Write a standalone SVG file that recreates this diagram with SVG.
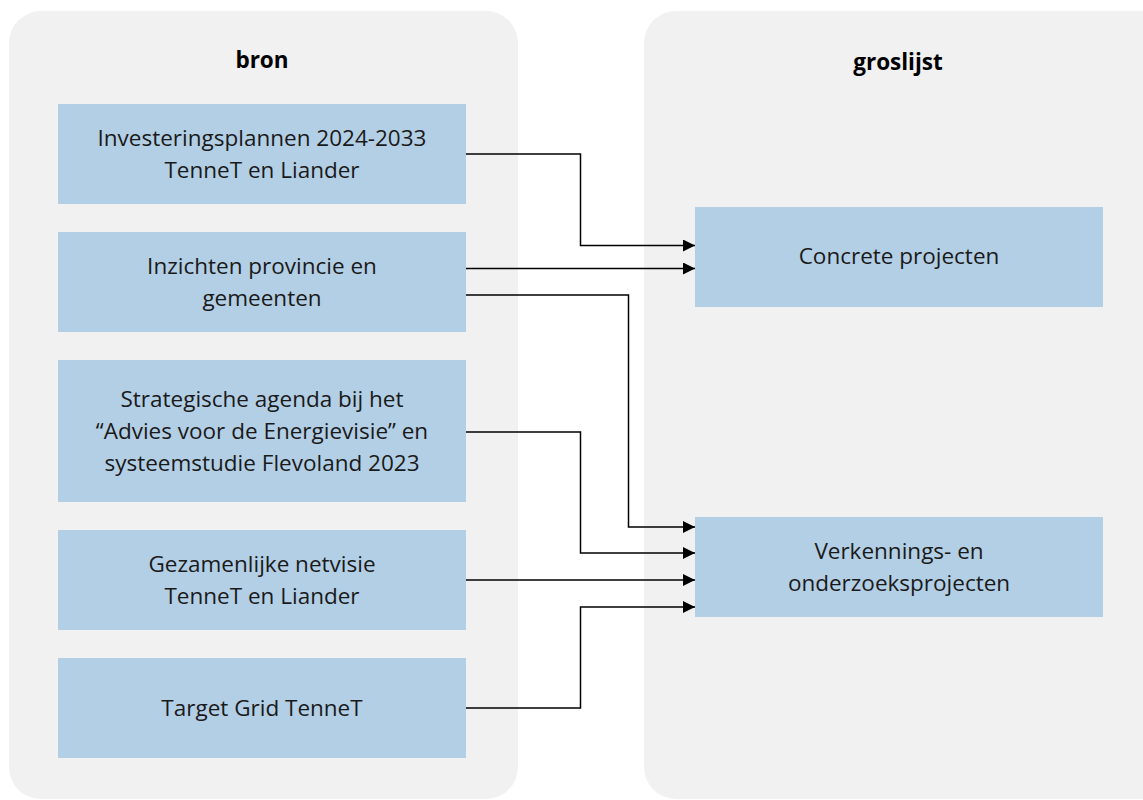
<svg xmlns="http://www.w3.org/2000/svg" width="1143" height="800" viewBox="0 0 1143 800">
<defs>
<style>
.cont{fill:#f1f1f1}
.box{fill:#b3cfe5}
.t{font-family:"Open Sans","Noto Sans","Liberation Sans",sans-serif;font-size:22.5px;fill:#1a1a1a;text-anchor:middle}
.h{font-family:"Open Sans","Noto Sans","Liberation Sans",sans-serif;font-size:22.5px;font-weight:bold;fill:#000;text-anchor:middle}
.c{fill:none;stroke:#000;stroke-width:1.5}
</style>
<marker id="ah" viewBox="0 0 12 12" refX="12" refY="6" markerWidth="12" markerHeight="12" markerUnits="userSpaceOnUse" orient="auto">
<path d="M0,0 L12,6 L0,12 Z" fill="#000"/>
</marker>
</defs>
<rect width="1143" height="800" fill="#fff"/>
<g id="container-bron">
<rect class="cont" x="9" y="11" width="509" height="788" rx="32"/>
<text class="h" x="262" y="68">bron</text>
</g>
<g id="container-groslijst">
<rect class="cont" x="644" y="11" width="530" height="788" rx="32"/>
<text class="h" x="898" y="70">groslijst</text>
</g>
<g id="node-investeringsplannen">
<rect class="box" x="58" y="104" width="408" height="100"/>
<text class="t" x="262" y="146">Investeringsplannen 2024-2033</text>
<text class="t" x="262" y="178">TenneT en Liander</text>
</g>
<g id="node-inzichten">
<rect class="box" x="58" y="232" width="408" height="100"/>
<text class="t" x="262" y="274">Inzichten provincie en</text>
<text class="t" x="262" y="306">gemeenten</text>
</g>
<g id="node-strategische">
<rect class="box" x="58" y="360" width="408" height="142"/>
<text class="t" x="262" y="407">Strategische agenda bij het</text>
<text class="t" x="262" y="439">“Advies voor de Energievisie” en</text>
<text class="t" x="262" y="471">systeemstudie Flevoland 2023</text>
</g>
<g id="node-netvisie">
<rect class="box" x="58" y="530" width="408" height="100"/>
<text class="t" x="262" y="572">Gezamenlijke netvisie</text>
<text class="t" x="262" y="604">TenneT en Liander</text>
</g>
<g id="node-targetgrid">
<rect class="box" x="58" y="658" width="408" height="100"/>
<text class="t" x="262" y="716">Target Grid TenneT</text>
</g>
<g id="node-concrete">
<rect class="box" x="695" y="207" width="408" height="100"/>
<text class="t" x="899" y="264">Concrete projecten</text>
</g>
<g id="node-verkennings">
<rect class="box" x="695" y="517" width="408" height="100"/>
<text class="t" x="899" y="559">Verkennings- en</text>
<text class="t" x="899" y="591">onderzoeksprojecten</text>
</g>
<g id="connectors">
<path class="c" d="M466,154 H580.5 V245.5 H695" marker-end="url(#ah)"/>
<path class="c" d="M466,268.5 H695" marker-end="url(#ah)"/>
<path class="c" d="M466,295 H628.5 V527 H695" marker-end="url(#ah)"/>
<path class="c" d="M466,432 H580.5 V553 H695" marker-end="url(#ah)"/>
<path class="c" d="M466,580 H695" marker-end="url(#ah)"/>
<path class="c" d="M466,708 H580.5 V607 H695" marker-end="url(#ah)"/>
</g>
</svg>
